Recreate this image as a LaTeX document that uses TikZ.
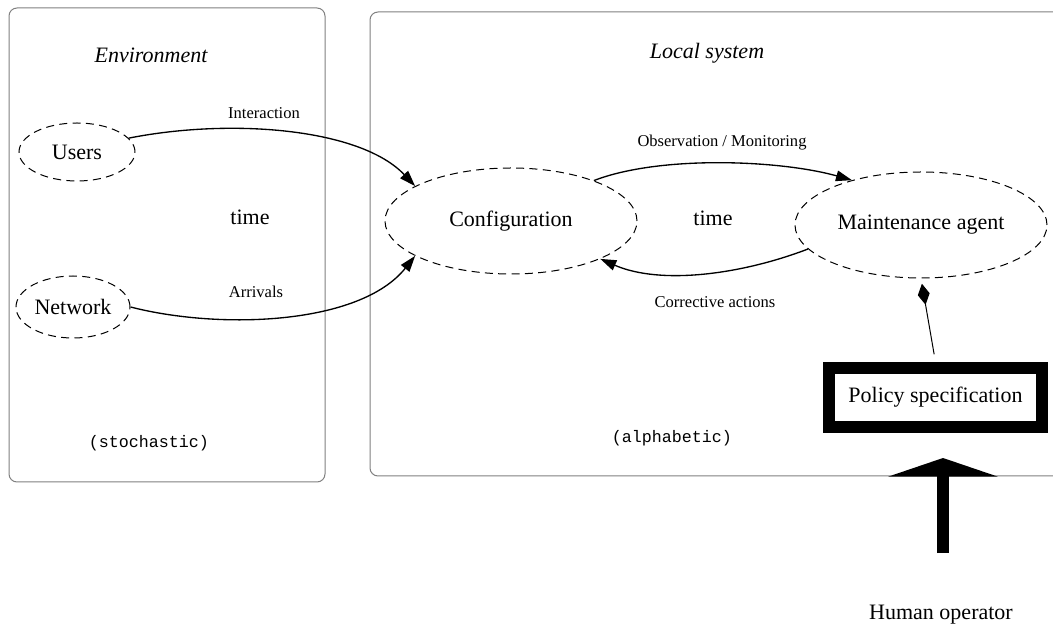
\documentclass[tikz,border=0pt]{standalone}
\usepackage{fontspec}
\setmainfont{Liberation Serif}
\setmonofont{Liberation Mono}
\usetikzlibrary{arrows.meta,shapes.geometric}

\tikzset{every picture/.style={line width=0.75pt}}
\tikzset{
  frame/.style={color={rgb, 255:red, 128; green, 128; blue, 128 }, rounded corners=6pt},
  state/.style={ellipse, draw, dash pattern=on 6pt off 4pt, inner sep=0pt, font=\fontsize{16.5}{19}\selectfont},
  label/.style={inner sep=0.75pt, font=\fontsize{12.4}{15}\selectfont},
  big/.style={inner sep=0.75pt, font=\fontsize{16.5}{19}\selectfont},
  kind/.style={inner sep=0.75pt, font=\fontsize{12.5}{15}\ttfamily},
  flow/.style={line width=1pt, -{Triangle[length=12pt,width=8pt]}}
}

\begin{document}
\begin{tikzpicture}[x=0.75pt,y=0.75pt,yscale=-1,xscale=1]
\useasboundingbox (0,0) rectangle (1053,630);

%Shape: Rounded Rectangle
\draw [frame] (9,8) rectangle (325,482);
%Shape: Open Rounded Rectangle
\draw [frame] (1053,12) -- (370,12) -- (370,476) -- (1053,476);

% Text Node
\node [big, font=\fontsize{16.5}{19}\itshape] (envtitle) at (151,55) {Environment};
% Text Node
\node [big, font=\fontsize{16.5}{19}\itshape] (loctitle) at (707,53) {Local system};

%Shape: Ellipse
\node [state, minimum width=87pt, minimum height=43.5pt] (users) at (77,152) {Users};
%Shape: Ellipse
\node [state, minimum width=85.5pt, minimum height=46.5pt] (network) at (73,307) {Network};
%Shape: Ellipse
\node [state, minimum width=189pt, minimum height=79.5pt] (conf) at (511,221) {Configuration};
%Shape: Ellipse
\node [state, minimum width=189pt, minimum height=79.5pt] (maint) at (921,225) {Maintenance agent};

% Text Node
\node [big] (timeenv) at (250,217) {time};
% Text Node
\node [big] (timeloc) at (713,218) {time};

%Shape: Thick Rectangle
\node [draw, line width=9pt, minimum width=160pt, minimum height=44pt, inner sep=0pt, font=\fontsize{16.5}{19}\selectfont] (policy) at (935.5,397.5) {Policy specification};

% Text Node
\node [kind] (stoch) at (149,443) {(stochastic)};
% Text Node
\node [kind] (alpha) at (672,438) {(alphabetic)};
% Text Node
\node [big] (operator) at (941,615) {Human operator};

%Curve Lines
\draw [flow] (users.15) .. controls (230,118) and (360,128) .. (conf.160);
%Curve Lines
\draw [flow] (network.east) .. controls (220,330) and (360,325) .. (conf.200);
%Curve Lines
\draw [flow] (conf.26) .. controls (660,155) and (780,160) .. (maint.147);
%Curve Lines
\draw [flow] (maint.192) .. controls (740,275) and (660,285) .. (conf.337);
%Straight Lines
\draw [-{Diamond[length=16pt,width=9pt]}, shorten <=6pt, shorten >=4pt] (policy.north) -- (maint.south);

%Big Arrow
\coordinate (opfoot) at (943,553);
\coordinate (optip) at (943,458);
\draw [line width=9pt, -{Triangle[length=14pt,width=82pt]}] (opfoot) -- (optip);

% Text Node
\node [label] (interact) at (264,113) {Interaction};
% Text Node
\node [label] (arrive) at (256,292) {Arrivals};
% Text Node
\node [label] (observe) at (722,143) {Observation / Monitoring};
% Text Node
\node [label] (correct) at (715,302) {Corrective actions};

\end{tikzpicture}
\end{document}
